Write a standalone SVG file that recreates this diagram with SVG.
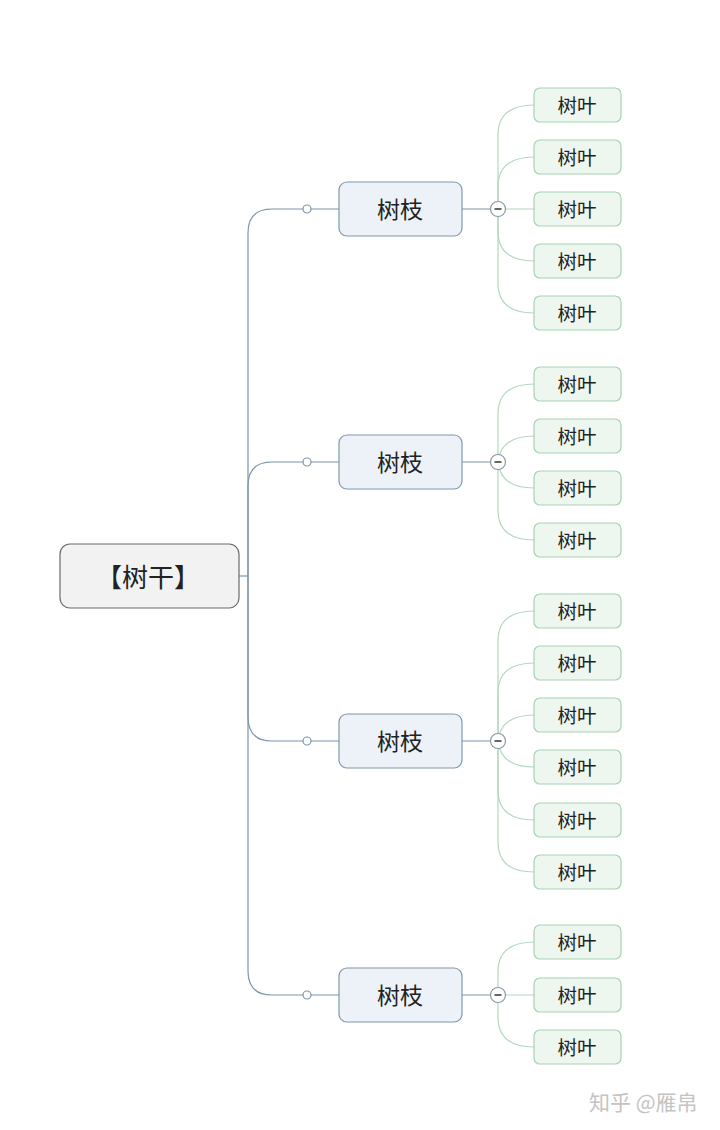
<svg xmlns="http://www.w3.org/2000/svg" width="720" height="1130" viewBox="0 0 720 1130">
<style>
.trunk{fill:none;stroke:#7d96ad;stroke-width:1.2}
.leafline{fill:none;stroke:#b3d8bf;stroke-width:1.2}
.dot{fill:#fff;stroke:#7d96ad;stroke-width:1.2}
.fold{fill:#fff;stroke:#8799aa;stroke-width:1.2}
.minus{stroke:#333;stroke-width:1.5}
.root rect{fill:#f2f2f2;stroke:#6b6b6b;stroke-width:1.2}
.branch rect{fill:#edf2f9;stroke:#7f98b0;stroke-width:1.2}
.leaf rect{fill:#eef6f0;stroke:#a6d3b3;stroke-width:1.2}
text{font-family:"Noto Sans CJK SC","Noto Sans",sans-serif;fill:#222;text-anchor:middle;dominant-baseline:central}
.root text{font-size:26px}
.branch text{font-size:23px}
.leaf text{font-size:19.5px}
.wm{font-size:21px;fill:#c4c4c4;text-anchor:start}
</style>
<rect width="720" height="1130" fill="#fff"/>
<g id="connectors">
<path class="trunk" d="M239 576H248"/>
<path class="trunk" d="M248 576V233Q248 209 272 209H339"/>
<path class="trunk" d="M248 576V486Q248 462 272 462H339"/>
<path class="trunk" d="M248 576V717Q248 741 272 741H339"/>
<path class="trunk" d="M248 576V971Q248 995 272 995H339"/>
<path class="trunk" d="M462 209H498"/>
<path class="trunk" d="M462 462H498"/>
<path class="trunk" d="M462 741H498"/>
<path class="trunk" d="M462 995H498"/>
<path class="leafline" d="M498 209V135Q498 105 534 105"/>
<path class="leafline" d="M498 209V187Q498 157 534 157"/>
<path class="leafline" d="M498 209H534"/>
<path class="leafline" d="M498 209V231Q498 261 534 261"/>
<path class="leafline" d="M498 209V283Q498 313 534 313"/>
<path class="leafline" d="M498 462V414Q498 384 534 384"/>
<path class="leafline" d="M498 462V466Q498 436 534 436"/>
<path class="leafline" d="M498 462V458Q498 488 534 488"/>
<path class="leafline" d="M498 462V510Q498 540 534 540"/>
<path class="leafline" d="M498 741V641Q498 611 534 611"/>
<path class="leafline" d="M498 741V693Q498 663 534 663"/>
<path class="leafline" d="M498 741V745Q498 715 534 715"/>
<path class="leafline" d="M498 741V737Q498 767 534 767"/>
<path class="leafline" d="M498 741V790Q498 820 534 820"/>
<path class="leafline" d="M498 741V842Q498 872 534 872"/>
<path class="leafline" d="M498 995V972Q498 942 534 942"/>
<path class="leafline" d="M498 995H534"/>
<path class="leafline" d="M498 995V1017Q498 1047 534 1047"/>
<circle class="dot" cx="307" cy="209" r="4"/>
<circle class="dot" cx="307" cy="462" r="4"/>
<circle class="dot" cx="307" cy="741" r="4"/>
<circle class="dot" cx="307" cy="995" r="4"/>
<g id="fold1"><circle class="fold" cx="498" cy="209" r="7.5"/><path class="minus" d="M494.5 209H501.5"/></g>
<g id="fold2"><circle class="fold" cx="498" cy="462" r="7.5"/><path class="minus" d="M494.5 462H501.5"/></g>
<g id="fold3"><circle class="fold" cx="498" cy="741" r="7.5"/><path class="minus" d="M494.5 741H501.5"/></g>
<g id="fold4"><circle class="fold" cx="498" cy="995" r="7.5"/><path class="minus" d="M494.5 995H501.5"/></g>
</g>
<g id="root" class="root"><rect x="60" y="544" width="179" height="64" rx="10"/><text x="148" y="575">【树干】</text></g>
<g id="branch1" class="branch"><rect x="339" y="182" width="123" height="54" rx="8"/><text x="400" y="208">树枝</text></g>
<g id="branch2" class="branch"><rect x="339" y="435" width="123" height="54" rx="8"/><text x="400" y="461">树枝</text></g>
<g id="branch3" class="branch"><rect x="339" y="714" width="123" height="54" rx="8"/><text x="400" y="740">树枝</text></g>
<g id="branch4" class="branch"><rect x="339" y="968" width="123" height="54" rx="8"/><text x="400" y="994">树枝</text></g>
<g id="leaf1-1" class="leaf"><rect x="534" y="88" width="87" height="34" rx="6"/><text x="577" y="104">树叶</text></g>
<g id="leaf1-2" class="leaf"><rect x="534" y="140" width="87" height="34" rx="6"/><text x="577" y="156">树叶</text></g>
<g id="leaf1-3" class="leaf"><rect x="534" y="192" width="87" height="34" rx="6"/><text x="577" y="208">树叶</text></g>
<g id="leaf1-4" class="leaf"><rect x="534" y="244" width="87" height="34" rx="6"/><text x="577" y="260">树叶</text></g>
<g id="leaf1-5" class="leaf"><rect x="534" y="296" width="87" height="34" rx="6"/><text x="577" y="312">树叶</text></g>
<g id="leaf2-1" class="leaf"><rect x="534" y="367" width="87" height="34" rx="6"/><text x="577" y="383">树叶</text></g>
<g id="leaf2-2" class="leaf"><rect x="534" y="419" width="87" height="34" rx="6"/><text x="577" y="435">树叶</text></g>
<g id="leaf2-3" class="leaf"><rect x="534" y="471" width="87" height="34" rx="6"/><text x="577" y="487">树叶</text></g>
<g id="leaf2-4" class="leaf"><rect x="534" y="523" width="87" height="34" rx="6"/><text x="577" y="539">树叶</text></g>
<g id="leaf3-1" class="leaf"><rect x="534" y="594" width="87" height="34" rx="6"/><text x="577" y="610">树叶</text></g>
<g id="leaf3-2" class="leaf"><rect x="534" y="646" width="87" height="34" rx="6"/><text x="577" y="662">树叶</text></g>
<g id="leaf3-3" class="leaf"><rect x="534" y="698" width="87" height="34" rx="6"/><text x="577" y="714">树叶</text></g>
<g id="leaf3-4" class="leaf"><rect x="534" y="750" width="87" height="34" rx="6"/><text x="577" y="766">树叶</text></g>
<g id="leaf3-5" class="leaf"><rect x="534" y="803" width="87" height="34" rx="6"/><text x="577" y="819">树叶</text></g>
<g id="leaf3-6" class="leaf"><rect x="534" y="855" width="87" height="34" rx="6"/><text x="577" y="871">树叶</text></g>
<g id="leaf4-1" class="leaf"><rect x="534" y="925" width="87" height="34" rx="6"/><text x="577" y="941">树叶</text></g>
<g id="leaf4-2" class="leaf"><rect x="534" y="978" width="87" height="34" rx="6"/><text x="577" y="994">树叶</text></g>
<g id="leaf4-3" class="leaf"><rect x="534" y="1030" width="87" height="34" rx="6"/><text x="577" y="1046">树叶</text></g>
<text class="wm" x="589" y="1101">知乎 @雁帛</text>
</svg>
